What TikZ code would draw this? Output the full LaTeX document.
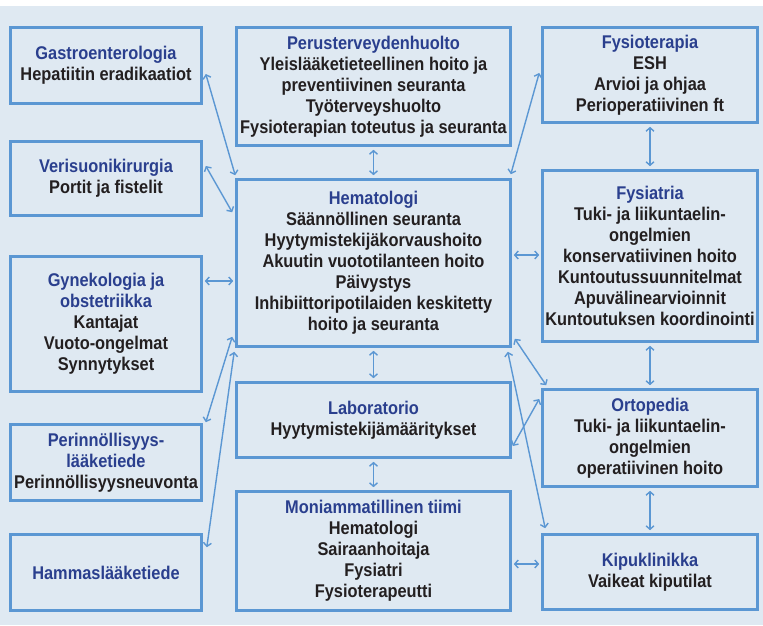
\documentclass[tikz,border=0pt]{standalone}
\usepackage{fontspec}
\setmainfont{Liberation Sans}[FakeStretch=0.89]
\usepackage{tikz}
\usetikzlibrary{arrows.meta,calc}

\definecolor{bgblue}{HTML}{DFE9F2}
\definecolor{boxblue}{HTML}{5B97D3}
\definecolor{headblue}{HTML}{2A3F8E}
\definecolor{txtblack}{HTML}{231F20}
\newcommand{\hd}[1]{\textcolor{headblue}{#1}}

\begin{document}
\begin{tikzpicture}[x=1pt, y=-1pt,
	every node/.style={font=\bfseries\fontsize{18.4}{21}\selectfont, text=txtblack},
	box/.style={draw=boxblue, line width=2.6pt, inner sep=0pt, align=center},
	lcol/.style={box, minimum width=191},
	mcol/.style={box, minimum width=274},
	rcol/.style={box, minimum width=215},
	conn/.style={boxblue, line width=1.4pt, {Straight Barb[length=3.5pt,width=8pt]}-{Straight Barb[length=3.5pt,width=8pt]}}]
	\useasboundingbox (0,0) rectangle (763,625);
	\fill[white] (0,0) rectangle (763,6);
	\fill[bgblue] (0,6) rectangle (763,625);
	% left column
	\node[lcol, minimum height=76] (gastro) at (106,65.5) {\hd{Gastroenterologia}\\Hepatiitin eradikaatiot};
	\node[lcol, minimum height=74] (veri) at (106,178.5) {\hd{Verisuonikirurgia}\\Portit ja fistelit};
	\node[lcol, minimum height=135] (gyne) at (106,324) {\hd{Gynekologia ja}\\\hd{obstetriikka}\\Kantajat\\Vuoto-ongelmat\\Synnytykset};
	\node[lcol, minimum height=76] (perinn) at (106,462.5) {\hd{Perinnöllisyys-}\\\hd{lääketiede}\\Perinnöllisyysneuvonta};
	\node[lcol, minimum height=76] (hammas) at (106,572.5) {\hd{Hammaslääketiede}};
	% middle column
	\node[mcol, minimum height=118] (perus) at (373.5,86.5) {\hd{Perusterveydenhuolto}\\Yleislääketieteellinen hoito ja\\preventiivinen seuranta\\Työterveyshuolto\\Fysioterapian toteutus ja seuranta};
	\node[mcol, minimum height=167] (hemato) at (373.5,263) {\hd{Hematologi}\\Säännöllinen seuranta\\Hyytymistekijäkorvaushoito\\Akuutin vuototilanteen hoito\\Päivystys\\Inhibiittoripotilaiden keskitetty\\hoito ja seuranta};
	\node[mcol, minimum height=75] (lab) at (373.5,420) {\hd{Laboratorio}\\Hyytymistekijämääritykset};
	\node[mcol, minimum height=119] (moni) at (373.5,551) {\hd{Moniammatillinen tiimi}\\Hematologi\\Sairaanhoitaja\\Fysiatri\\Fysioterapeutti};
	% right column
	\node[rcol, minimum height=95] (fysioter) at (650,75) {\hd{Fysioterapia}\\ESH\\Arvioi ja ohjaa\\Perioperatiivinen ft};
	\node[rcol, minimum height=171] (fysiatria) at (650,256) {\hd{Fysiatria}\\Tuki- ja liikuntaelin-\\ongelmien\\konservatiivinen hoito\\Kuntoutussuunnitelmat\\Apuvälinearvioinnit\\Kuntoutuksen koordinointi};
	\node[rcol, minimum height=97] (orto) at (650,438) {\hd{Ortopedia}\\Tuki- ja liikuntaelin-\\ongelmien\\operatiivinen hoito};
	\node[rcol, minimum height=75] (kipu) at (650,572) {\hd{Kipuklinikka}\\Vaikeat kiputilat};
	% connectors
	\draw[conn] ($(gastro.east)+(3,8.5)$) -- ($(hemato.north west)+(0,-3)$);
	\draw[conn] ($(veri.east)+(3,-12.5)$) -- ($(hemato.north west)+(-3,34)$);
	\draw[conn] ($(gyne.east)+(2,-43)$) -- ($(hemato.west)+(-2,18)$);
	\draw[conn] ($(hemato.south west)+(-3,-11)$) -- ($(perinn.north east)+(3,-1)$);
	\draw[conn] ($(hemato.south west)+(-1,4)$) -- ($(hammas.north east)+(4,14)$);
	\draw[conn] ($(perus.south)+(0,3)$) -- ($(hemato.north)+(0,-3)$);
	\draw[conn] ($(hemato.south)+(0,3)$) -- ($(lab.north)+(0,-3)$);
	\draw[conn] ($(lab.south)+(0,3)$) -- ($(moni.north)+(0,-3)$);
	\draw[conn] ($(fysioter.west)+(-2,-2)$) -- ($(hemato.north east)+(-1,-4)$);
	\draw[conn] ($(hemato.east)+(2,-8)$) -- ($(fysiatria.west)+(-2,-1)$);
	\draw[conn] ($(hemato.south east)+(3,-9)$) -- ($(orto.north west)+(5,-3)$);
	\draw[conn] ($(hemato.south east)+(-4,4)$) -- ($(kipu.north west)+(4,-5)$);
	\draw[conn] ($(lab.east)+(1,26)$) -- ($(orto.west)+(-2,-39)$);
	\draw[conn] ($(moni.east)+(2,13)$) -- ($(kipu.west)+(-2,-8)$);
	\draw[conn] ($(fysioter.south)+(0,3)$) -- ($(fysiatria.north)+(0,-3)$);
	\draw[conn] ($(fysiatria.south)+(0,3)$) -- ($(orto.north)+(0,-3)$);
	\draw[conn] ($(orto.south)+(0,3)$) -- ($(kipu.north)+(0,-3)$);
\end{tikzpicture}
\end{document}
